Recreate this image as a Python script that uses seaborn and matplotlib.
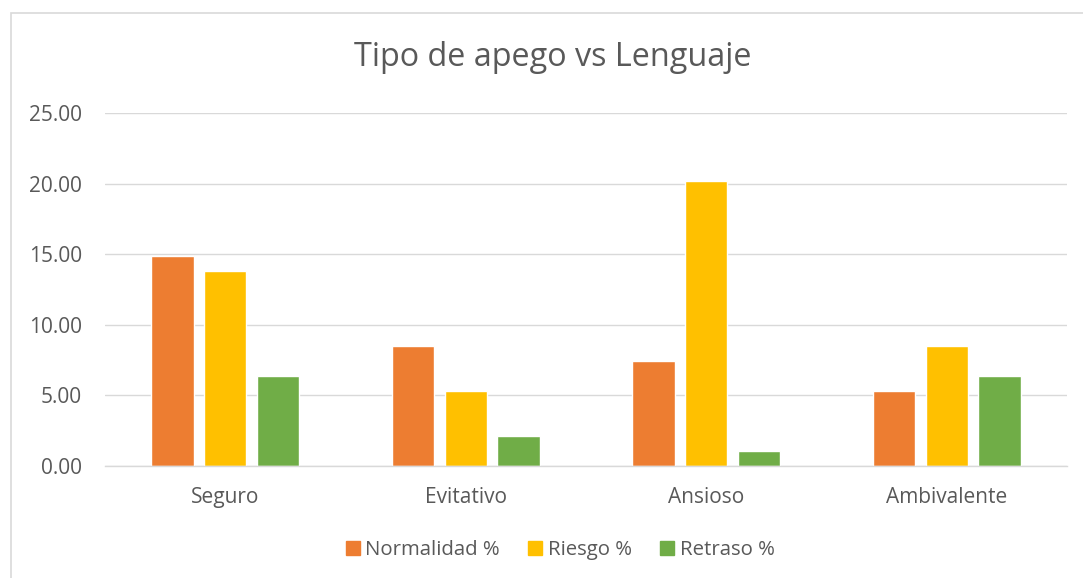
import matplotlib
matplotlib.use("Agg")
import matplotlib.pyplot as plt
import seaborn as sns
import pandas as pd
from matplotlib.patches import Rectangle

categories = ["Seguro", "Evitativo", "Ansioso", "Ambivalente"]
series_names = ["Normalidad %", "Riesgo %", "Retraso %"]
normalidad = [14.89, 8.51, 7.45, 5.32]
riesgo = [13.83, 5.32, 20.21, 8.51]
retraso = [6.38, 2.13, 1.06, 6.38]
yticks = [0, 5, 10, 15, 20, 25]
colors = ["#ED7D31", "#FFC000", "#70AD47"]

rows = []
for name, vals in zip(series_names, [normalidad, riesgo, retraso]):
    for c, v in zip(categories, vals):
        rows.append({"cat": c, "serie": name, "val": v})
df = pd.DataFrame(rows)

sns.set_style("white")
plt.rcParams["font.family"] = ["Open Sans", "DejaVu Sans"]
txt = "#595959"

fig = plt.figure(figsize=(10.83, 5.78), dpi=100)
ax = fig.add_axes([105/1083, 1-466/578, (1067-105)/1083, (466-113)/578])

sns.barplot(data=df, x="cat", y="val", hue="serie", palette=colors,
            order=categories, hue_order=series_names, width=0.66, gap=0.2,
            saturation=1, ax=ax, legend=True)

ax.set_ylim(0, 25)
ax.set_xlim(-0.5, 3.5)
ax.set_yticks(yticks)
ax.set_yticklabels([f"{t:.2f}" for t in yticks], fontsize=15, color=txt)
ax.tick_params(axis="x", labelsize=15, labelcolor=txt, length=0, pad=15)
ax.tick_params(axis="y", length=0, pad=16.5)
ax.set_xlabel("")
ax.set_ylabel("")
ax.yaxis.grid(True, color="#D9D9D9", linewidth=1)
ax.set_axisbelow(True)
for s in ["top", "right", "left"]:
    ax.spines[s].set_visible(False)
ax.spines["bottom"].set_color("#D9D9D9")
ax.spines["bottom"].set_linewidth(1)

ax.legend_.remove()
handles = [Rectangle((0, 0), 1, 1, color=c) for c in colors]
fig.legend(handles, series_names, loc="center", bbox_to_anchor=(560/1083, 1-550/578),
           ncol=3, frameon=False, fontsize=14.7, labelcolor=txt,
           handlelength=0.7, handleheight=0.7, handletextpad=0.25, columnspacing=1.4)

fig.text(553/1083, 1-58/578, "Tipo de apego vs Lenguaje", ha="center", va="center",
         fontsize=23.3, color=txt)

fig.add_artist(Rectangle((11/1083, -0.1), 1.2, 1 - 13/578 + 0.1, transform=fig.transFigure,
                         fill=False, edgecolor="#D9D9D9", linewidth=1.2))

fig.savefig("out.png", dpi=100)
